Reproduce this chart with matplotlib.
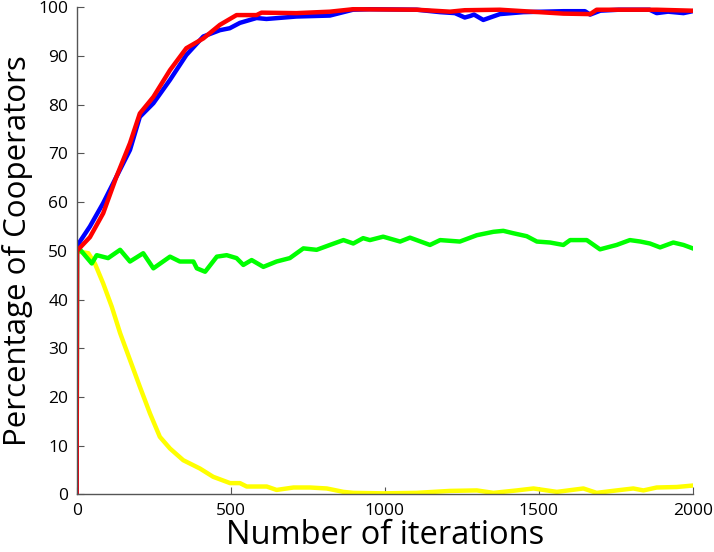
import matplotlib
matplotlib.use("Agg")
import matplotlib.pyplot as plt

# ---- data ----
blue_x = [0, 1, 43, 86, 129, 173, 205, 249, 303, 356, 411, 465, 497, 530, 584, 616, 713, 822, 897,
          950, 1104, 1180, 1228, 1260, 1277, 1290, 1320, 1374, 1450, 1580, 1650, 1667, 1700, 1760,
          1860, 1883, 1920, 1970, 2000]
blue_y = [0, 51.0, 55.0, 59.8, 65.2, 70.7, 77.5, 80.3, 85.1, 90.2, 94.0, 95.3, 95.7, 96.8, 97.8, 97.6, 98.1, 98.3, 99.5,
          99.6, 99.5, 99.0, 98.8, 97.9, 98.2, 98.5, 97.4, 98.6, 99.0, 99.2, 99.2, 98.5, 99.3, 99.5,
          99.5, 98.8, 99.1, 98.8, 99.2]

red_x = [0, 1, 43, 86, 129, 173, 205, 249, 303, 356, 411, 465, 519, 584, 600, 713, 822, 897,
         1104, 1212, 1260, 1374, 1580, 1667, 1688, 1883, 2000]
red_y = [0, 50.0, 52.8, 57.7, 65.2, 72.1, 78.2, 81.6, 87.1, 91.6, 93.6, 96.4, 98.4, 98.4, 98.9, 98.8, 99.1, 99.6,
         99.5, 99.1, 99.4, 99.5, 98.7, 98.6, 99.5, 99.5, 99.3]

green_x = [0, 1, 21, 49, 65, 102, 141, 173, 216, 249, 303, 335, 379, 390, 417, 455, 487, 519, 541, 568,
           606, 649, 692, 736, 779, 822, 866, 898, 930, 952, 995, 1050, 1082, 1147, 1180, 1244, 1299,
           1353, 1385, 1418, 1461, 1494, 1537, 1580, 1602, 1656, 1699, 1753, 1796, 1830, 1861, 1894,
           1937, 1970, 2000]
green_y = [0, 51.0, 49.5, 47.4, 49.1, 48.5, 50.2, 47.8, 49.5, 46.4, 48.8, 47.8, 47.8, 46.4, 45.7, 48.8, 49.1, 48.5, 47.1, 48.1,
           46.7, 47.8, 48.5, 50.5, 50.2, 51.2, 52.2, 51.5, 52.6, 52.2, 52.9, 51.9, 52.7, 51.2, 52.2, 51.9, 53.2,
           53.9, 54.1, 53.6, 53.0, 51.9, 51.7, 51.2, 52.2, 52.2, 50.3, 51.2, 52.2, 51.9, 51.5, 50.7,
           51.7, 51.2, 50.5]

yellow_x = [0, 1, 11, 38, 59, 86, 114, 141, 173, 205, 238, 270, 303, 346, 400, 443, 498, 530, 552, 617,
            649, 704, 757, 812, 866, 898, 995, 1104, 1212, 1299, 1353, 1429, 1483, 1559, 1645, 1688,
            1753, 1807, 1840, 1883, 1948, 2000]
yellow_y = [0, 50.0, 49.8, 49.5, 47.4, 43.3, 38.5, 33.1, 27.6, 22.1, 16.6, 11.8, 9.4, 7.0, 5.3, 3.6, 2.3, 2.3, 1.6, 1.6,
            0.9, 1.4, 1.4, 1.2, 0.5, 0.3, 0.2, 0.3, 0.7, 0.8, 0.3, 0.8, 1.2, 0.5, 1.2, 0.3,
            0.8, 1.2, 0.8, 1.4, 1.5, 1.8]

x_ticks = [0, 500, 1000, 1500, 2000]
y_ticks = [0, 10, 20, 30, 40, 50, 60, 70, 80, 90, 100]

fig = plt.figure(figsize=(7.14, 5.52), dpi=100)
ax = fig.add_axes([0.1074, 0.1045, 0.9702 - 0.1074, 0.9868 - 0.1045])

lw = 3.2
ax.plot(yellow_x, yellow_y, color=(1, 1, 0), lw=lw, solid_joinstyle="round")
ax.plot(green_x, green_y, color=(0, 1, 0), lw=lw, solid_joinstyle="round")
ax.plot(blue_x, blue_y, color=(0, 0, 1), lw=lw, solid_joinstyle="round")
ax.plot(red_x, red_y, color=(1, 0, 0), lw=lw, solid_joinstyle="round")

ax.set_xlim(0, 2000)
ax.set_ylim(0, 100)
ax.set_xticks(x_ticks)
ax.set_yticks(y_ticks)
ax.set_xticklabels([str(v) for v in x_ticks])
ax.set_yticklabels([str(v) for v in y_ticks])

for side in ("top", "right"):
    ax.spines[side].set_visible(False)
for side in ("left", "bottom"):
    ax.spines[side].set_color("#555555")
    ax.spines[side].set_linewidth(1.0)

font = ["Open Sans", "DejaVu Sans"]
ax.tick_params(direction="in", length=5, color="#555555", labelsize=12.5, pad=6)
for lab in ax.get_xticklabels() + ax.get_yticklabels():
    lab.set_family(font)

ax.set_xlabel("Number of iterations", fontsize=23.5, family=font, labelpad=0)
ax.set_ylabel("Percentage of Cooperators", fontsize=22.5, family=font, labelpad=4)

fig.savefig("out.png", dpi=100)
